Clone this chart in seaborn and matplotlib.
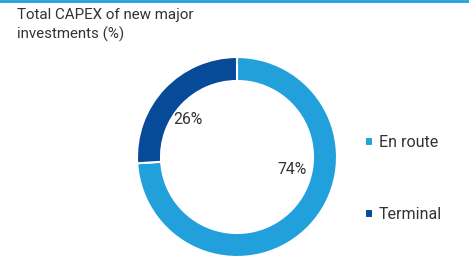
import matplotlib
matplotlib.use("Agg")
import matplotlib.pyplot as plt
import seaborn as sns

sns.set_theme(style="white")
plt.rcParams["font.family"] = ["Roboto", "DejaVu Sans"]

categories = ["En route", "Terminal"]
shares = [74, 26]
colors = ["#21a0dc", "#074a97"]
title = "Total CAPEX of new major\ninvestments (%)"

fig = plt.figure(figsize=(4.69, 2.56), dpi=100)
fig.patch.set_facecolor("white")

# thin blue rule at the top
fig.add_artist(plt.Line2D([0, 1], [0.997, 0.997], color="#21a0dc", lw=2,
                          transform=fig.transFigure))

fig.text(17 / 469, 1 - 8 / 256, title, ha="left", va="top", fontsize=10.9,
         color="#333333", linespacing=1.35)

ax = fig.add_axes([137 / 469, -1 / 256, 200 / 469, 200 / 256])
wedges, texts, autotexts = ax.pie(
    shares, colors=colors, startangle=90, counterclock=False,
    radius=1, autopct="%d%%", pctdistance=0.6,
    wedgeprops=dict(width=0.24, edgecolor="white", linewidth=1.5),
    textprops=dict(color="#333333", fontsize=11.3),
)
# labels sit off the wedge midpoints in the reference
autotexts[0].set_position((0.55, -0.12))
autotexts[1].set_position((-0.49, 0.37))
ax.set_xlim(-1, 1)
ax.set_ylim(-1, 1)
ax.set_aspect("equal")
ax.axis("off")

leg = fig.legend(wedges, categories, loc="upper left",
                 bbox_to_anchor=(351 / 469, 1 - 121 / 256), frameon=False,
                 handlelength=0.5, handleheight=0.5, handletextpad=0.35,
                 labelspacing=3.55, fontsize=11.5, labelcolor="#333333")

fig.savefig("out.png", dpi=100, facecolor="white")
